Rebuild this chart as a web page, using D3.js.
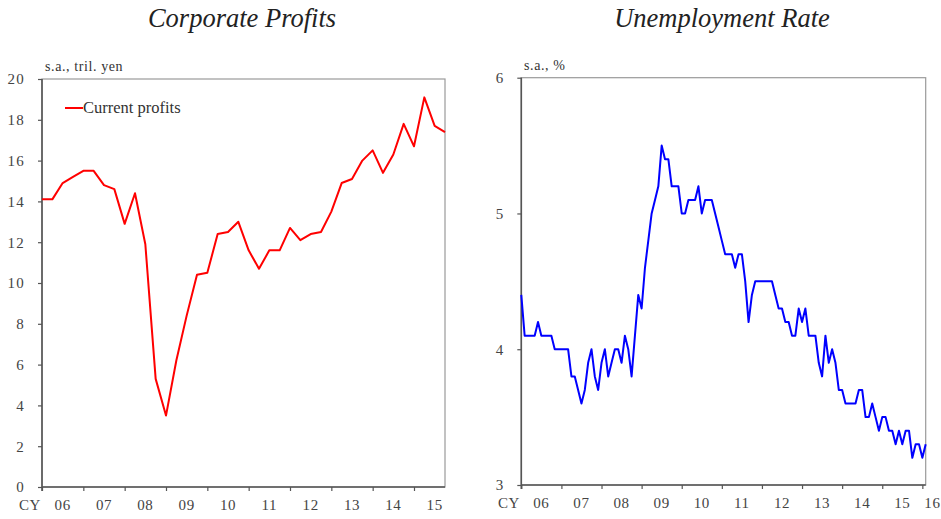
<!DOCTYPE html>
<html>
<head>
<meta charset="utf-8">
<script src="https://cdn.jsdelivr.net/npm/d3@7"></script>
<style>
  html, body { margin: 0; padding: 0; background: #fff; }
  svg { display: block; }
  text { font-family: "Liberation Serif", "Times New Roman", serif; }
</style>
</head>
<body>
<svg id="chart" width="941" height="519"></svg>
<script>
// ---- Data ----
// Corporate profits, quarterly, 2006Q1 .. 2015Q4 positions (s.a., tril. yen)
const profitQuarters = ["06Q1","06Q2","06Q3","06Q4","07Q1","07Q2","07Q3","07Q4","08Q1","08Q2","08Q3","08Q4",
  "09Q1","09Q2","09Q3","09Q4","10Q1","10Q2","10Q3","10Q4","11Q1","11Q2","11Q3","11Q4",
  "12Q1","12Q2","12Q3","12Q4","13Q1","13Q2","13Q3","13Q4","14Q1","14Q2","14Q3","14Q4",
  "15Q1","15Q2","15Q3","15Q4"];
const profitValues = [14.1, 14.1, 14.9, 15.2, 15.5, 15.5, 14.8, 14.6, 12.9, 14.4, 11.9, 5.3,
  3.5, 6.2, 8.4, 10.4, 10.5, 12.4, 12.5, 13.0, 11.6, 10.7, 11.6, 11.6,
  12.7, 12.1, 12.4, 12.5, 13.5, 14.9, 15.1, 16.0, 16.5, 15.4, 16.3, 17.8,
  16.7, 19.1, 17.7, 17.4];
const profitYTicks = [0, 2, 4, 6, 8, 10, 12, 14, 16, 18, 20];
const profitYearLabels = ["06","07","08","09","10","11","12","13","14","15"];

// Unemployment rate, monthly, Jan 2006 .. Feb 2016 (s.a., %)
const unempValues = [
  4.4, 4.1, 4.1, 4.1, 4.1, 4.2, 4.1, 4.1, 4.1, 4.1, 4.0, 4.0,   // 2006
  4.0, 4.0, 4.0, 3.8, 3.8, 3.7, 3.6, 3.7, 3.9, 4.0, 3.8, 3.7,   // 2007
  3.9, 4.0, 3.8, 3.9, 4.0, 4.0, 3.9, 4.1, 4.0, 3.8, 4.1, 4.4,   // 2008
  4.3, 4.6, 4.8, 5.0, 5.1, 5.2, 5.5, 5.4, 5.4, 5.2, 5.2, 5.2,   // 2009
  5.0, 5.0, 5.1, 5.1, 5.1, 5.2, 5.0, 5.1, 5.1, 5.1, 5.0, 4.9,   // 2010
  4.8, 4.7, 4.7, 4.7, 4.6, 4.7, 4.7, 4.5, 4.2, 4.4, 4.5, 4.5,   // 2011
  4.5, 4.5, 4.5, 4.5, 4.4, 4.3, 4.3, 4.2, 4.2, 4.1, 4.1, 4.3,   // 2012
  4.2, 4.3, 4.1, 4.1, 4.1, 3.9, 3.8, 4.1, 3.9, 4.0, 3.9, 3.7,   // 2013
  3.7, 3.6, 3.6, 3.6, 3.6, 3.7, 3.7, 3.5, 3.5, 3.6, 3.5, 3.4,   // 2014
  3.5, 3.5, 3.4, 3.4, 3.3, 3.4, 3.3, 3.4, 3.4, 3.2, 3.3, 3.3,   // 2015
  3.2, 3.3                                                      // 2016
];
const unempYTicks = [3, 4, 5, 6];
const unempYearLabels = ["06","07","08","09","10","11","12","13","14","15","16"];

// ---- Drawing ----
const svg = d3.select("#chart");
const FONT = '"Liberation Serif", "Times New Roman", serif';

function frame(g, x0, x1, y0, y1) {
  g.append("rect").attr("x", x0).attr("y", y0).attr("width", x1 - x0).attr("height", y1 - y0)
    .attr("fill", "none").attr("stroke", "#9a9a9a").attr("stroke-width", 1.2);
  g.append("line").attr("x1", x0).attr("x2", x0).attr("y1", y0).attr("y2", y1 + 4)
    .attr("stroke", "#555").attr("stroke-width", 1.6);
  g.append("line").attr("x1", x0).attr("x2", x1).attr("y1", y1).attr("y2", y1)
    .attr("stroke", "#555").attr("stroke-width", 1.6);
}

// ===== Left: Corporate Profits =====
{
  const L = 42, R = 445, T = 79, B = 487;
  const g = svg.append("g");
  const x = d3.scaleLinear().domain([0, profitValues.length - 1]).range([L, R]);
  const y = d3.scaleLinear().domain([0, 20]).range([B, T]);

  g.append("text").attr("x", 242).attr("y", 27).attr("text-anchor", "middle")
    .attr("font-size", 26.5).attr("font-style", "italic").attr("fill", "#222").text("Corporate Profits");

  frame(g, L, R, T, B);

  const yAxis = d3.axisLeft(y).tickValues(profitYTicks).tickSize(4).tickPadding(13).tickFormat(d3.format("d"));
  const ya = g.append("g").attr("transform", `translate(${L},0)`).call(yAxis);
  ya.select(".domain").remove();
  ya.selectAll("line").attr("stroke", "#555").attr("stroke-width", 1.2);
  ya.selectAll("text").attr("font-family", FONT).attr("font-size", 15).attr("fill", "#444")
    .attr("letter-spacing", 1.2);

  const xTickIdx = profitYearLabels.map((d, i) => i * 4);
  const xAxis = d3.axisBottom(x).tickValues(xTickIdx).tickSize(4).tickFormat("");
  const xa = g.append("g").attr("transform", `translate(0,${B})`).call(xAxis);
  xa.select(".domain").remove();
  xa.selectAll("line").attr("stroke", "#555").attr("stroke-width", 1.2);

  g.selectAll(".xl").data(profitYearLabels).enter().append("text")
    .attr("x", (d, i) => x(i * 4 + 2)).attr("y", 510).attr("text-anchor", "middle")
    .attr("font-size", 15).attr("letter-spacing", 0.6).attr("fill", "#444").text(d => d);
  g.append("text").attr("x", 41).attr("y", 510).attr("text-anchor", "end")
    .attr("font-size", 15).attr("letter-spacing", 0.6).attr("fill", "#444").text("CY");

  g.append("text").attr("x", 45).attr("y", 71).attr("font-size", 14).attr("fill", "#333")
    .attr("letter-spacing", 0.6).text("s.a., tril. yen");

  const line = d3.line().x((d, i) => x(i)).y(d => y(d));
  g.append("path").datum(profitValues).attr("d", line).attr("fill", "none")
    .attr("stroke", "#ff0000").attr("stroke-width", 2).attr("stroke-linejoin", "round");

  g.append("line").attr("x1", 65).attr("x2", 83).attr("y1", 108).attr("y2", 108)
    .attr("stroke", "#ff0000").attr("stroke-width", 2);
  g.append("text").attr("x", 83).attr("y", 113).attr("font-size", 16.5).attr("fill", "#333")
    .text("Current profits");
}

// ===== Right: Unemployment Rate =====
{
  const L = 521.3, R = 925.7, T = 77.7, B = 485;
  const g = svg.append("g");
  const x = d3.scaleLinear().domain([0, unempValues.length - 1]).range([L, R]);
  const y = d3.scaleLinear().domain([3, 6]).range([B, T]);

  g.append("text").attr("x", 722).attr("y", 27).attr("text-anchor", "middle")
    .attr("font-size", 26.5).attr("font-style", "italic").attr("fill", "#222").text("Unemployment Rate");

  frame(g, L, R, T, B);

  const yAxis = d3.axisLeft(y).tickValues(unempYTicks).tickSize(4).tickPadding(14).tickFormat(d3.format("d"));
  const ya = g.append("g").attr("transform", `translate(${L},0)`).call(yAxis);
  ya.select(".domain").remove();
  ya.selectAll("line").attr("stroke", "#555").attr("stroke-width", 1.2);
  ya.selectAll("text").attr("font-family", FONT).attr("font-size", 15).attr("fill", "#444");

  const xTickIdx = unempYearLabels.map((d, i) => i * 12);
  const xAxis = d3.axisBottom(x).tickValues(xTickIdx).tickSize(4).tickFormat("");
  const xa = g.append("g").attr("transform", `translate(0,${B})`).call(xAxis);
  xa.select(".domain").remove();
  xa.selectAll("line").attr("stroke", "#555").attr("stroke-width", 1.2);

  g.selectAll(".xl").data(unempYearLabels).enter().append("text")
    .attr("x", (d, i) => x(Math.min(i * 12 + 6, 123)))
    .attr("y", 508).attr("text-anchor", "middle")
    .attr("font-size", 15).attr("letter-spacing", 0.6).attr("fill", "#444").text(d => d);
  g.append("text").attr("x", 520).attr("y", 508).attr("text-anchor", "end")
    .attr("font-size", 15).attr("letter-spacing", 0.6).attr("fill", "#444").text("CY");

  g.append("text").attr("x", 524).attr("y", 70).attr("font-size", 14).attr("fill", "#333")
    .attr("letter-spacing", 0.6).text("s.a., %");

  const line = d3.line().x((d, i) => x(i)).y(d => y(d));
  g.append("path").datum(unempValues).attr("d", line).attr("fill", "none")
    .attr("stroke", "#0000ff").attr("stroke-width", 2).attr("stroke-linejoin", "round");
}
</script>
</body>
</html>
